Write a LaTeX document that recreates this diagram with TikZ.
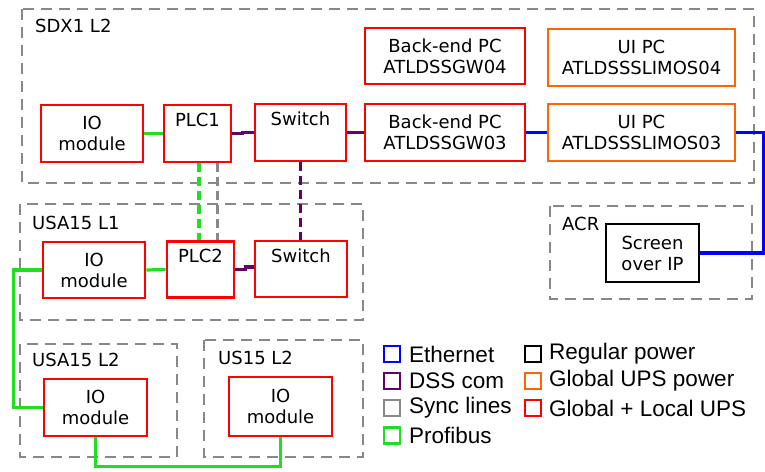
\documentclass[tikz,border=0pt]{standalone}
\usepackage{fontspec}
\setmainfont{DejaVu Sans}
\newfontfamily\legendfont{Liberation Sans}
\begin{document}
\begin{tikzpicture}[x=1pt,y=-1pt,
  box/.style={draw, line width=2.9pt, inner sep=0pt, align=center,
    font=\fontsize{18}{21}\selectfont},
  redbox/.style={box, draw=upsred},
  orangebox/.style={box, draw=upsorange},
  blackbox/.style={box, draw=black},
  zone/.style={draw=zonegray, line width=2.9pt, dash pattern=on 11pt off 7pt},
  zonelabel/.style={anchor=base west, inner sep=0pt, font=\fontsize{18}{21}\selectfont},
  ethernet/.style={draw=ethblue, line width=3.2pt},
  dss/.style={draw=dsspurple, line width=3.2pt},
  dssdash/.style={dss, dash pattern=on 9pt off 5pt},
  profibus/.style={draw=pbgreen, line width=3.2pt},
  profibusdash/.style={profibus, dash pattern=on 9pt off 5pt},
  sync/.style={draw=zonegray, line width=3.2pt, dash pattern=on 9pt off 5pt},
  keybox/.style={draw, line width=2.8pt, minimum size=16pt, inner sep=0pt},
  keytext/.style={anchor=west, inner sep=0pt, font=\legendfont\fontsize{22.5}{25}\selectfont},
]
\definecolor{upsred}{RGB}{255,0,0}
\definecolor{upsorange}{RGB}{255,102,0}
\definecolor{ethblue}{RGB}{0,0,255}
\definecolor{dsspurple}{RGB}{102,0,102}
\definecolor{pbgreen}{RGB}{34,221,34}
\definecolor{zonegray}{RGB}{136,136,136}

\useasboundingbox (0,0) rectangle (765,471);

% zones
\draw[zone] (22,9) rectangle (754,183);
\node[zonelabel] (lsdx) at (35,32) {SDX1 L2};
\draw[zone] (20,204) rectangle (363,320);
\node[zonelabel] (lusa1) at (32,229) {USA15 L1};
\draw[zone] (20,344) rectangle (177,457);
\node[zonelabel] (lusa2) at (32,366) {USA15 L2};
\draw[zone] (204,340) rectangle (363,457);
\node[zonelabel] (lus15) at (218,364) {US15 L2};
\draw[zone] (550,206) rectangle (752,299);
\node[zonelabel] (lacr) at (562,230) {ACR};

% SDX1 L2 devices
\node[redbox, minimum width=102pt, minimum height=57pt] (io1) at (92,133.5) {IO\\module};
\node[redbox, minimum width=67pt, minimum height=57pt] (plc1) at (197.5,133.5) {PLC1\\\strut};
\node[redbox, minimum width=91pt, minimum height=57pt] (sw1) at (300.5,132.5) {Switch\\\strut};
\node[redbox, minimum width=160pt, minimum height=57pt] (be3) at (445,132.5) {Back-end PC\\ATLDSSGW03};
\node[redbox, minimum width=160pt, minimum height=56pt] (be4) at (445,56) {Back-end PC\\ATLDSSGW04};
\node[orangebox, minimum width=187pt, minimum height=57pt] (ui3) at (641.5,132.5) {UI PC\\ATLDSSSLIMOS03};
\node[orangebox, minimum width=187pt, minimum height=57pt] (ui4) at (641.5,57.5) {UI PC\\ATLDSSSLIMOS04};

% USA15 L1 devices
\node[redbox, minimum width=102pt, minimum height=56pt] (io2) at (94,270) {IO\\module};
\node[redbox, minimum width=67pt, minimum height=56pt] (plc2) at (200.5,269.5) {PLC2\\\strut};
\node[redbox, minimum width=92pt, minimum height=56pt] (sw2) at (301,269) {Switch\\\strut};

% L2 IO modules
\node[redbox, minimum width=103pt, minimum height=57pt] (io3) at (95.5,407.5) {IO\\module};
\node[redbox, minimum width=103pt, minimum height=59pt] (io4) at (280.5,406.5) {IO\\module};

% ACR screen
\node[blackbox, minimum width=93pt, minimum height=58pt] (scr) at (652.5,253) {Screen\\over IP};

% connectors
\draw[profibus] (io1.east) -- (plc1.west);
\draw[dss] (plc1.east) -- ++(10,0) |- (sw1.west);
\draw[dss] (sw1.east) -- (be3.west);
\draw[ethernet] (be3.east) -- (ui3.west);
\draw[ethernet] (ui3.east) -- ++(27,0) coordinate (ethc) |- (scr.east);
\draw[profibusdash] ([xshift=1.5pt]plc1.south) -- ([xshift=1.5pt]plc1.south |- plc2.north);
\draw[sync] ([xshift=20pt]plc1.south) -- ([xshift=20pt]plc1.south |- plc2.north);
\draw[dssdash] (sw1.south) -- (sw1.south |- sw2.north);
\draw[profibus] (io2.east) -- (plc2.west);
\draw[dss] (plc2.east) -- ++(10,0) |- ([yshift=2pt]sw2.west);
\draw[profibus] (io2.west) -- ++(-28,0) |- (io3.west);
\draw[profibus] (io3.south) -- ++(0,29) -| (io4.south);

% legend
\node[keybox, draw=ethblue] (k1) at (392,354) {};
\node[keytext] (t1) at (409,354) {Ethernet};
\node[keybox, draw=dsspurple] (k2) at (392,381) {};
\node[keytext] (t2) at (409,381) {DSS com};
\node[keybox, draw=zonegray] (k3) at (392,408) {};
\node[keytext] (t3) at (409,408) {Sync lines};
\node[keybox, draw=pbgreen] (k4) at (392,435.5) {};
\node[keytext] (t4) at (409,435.5) {Profibus};
\node[keybox, draw=black] (k5) at (533,354) {};
\node[keytext] (t5) at (549,354) {Regular power};
\node[keybox, draw=upsorange] (k6) at (533,381) {};
\node[keytext] (t6) at (549,381) {Global UPS power};
\node[keybox, draw=upsred] (k7) at (533,408) {};
\node[keytext] (t7) at (549,408) {Global + Local UPS};
\end{tikzpicture}
\end{document}
